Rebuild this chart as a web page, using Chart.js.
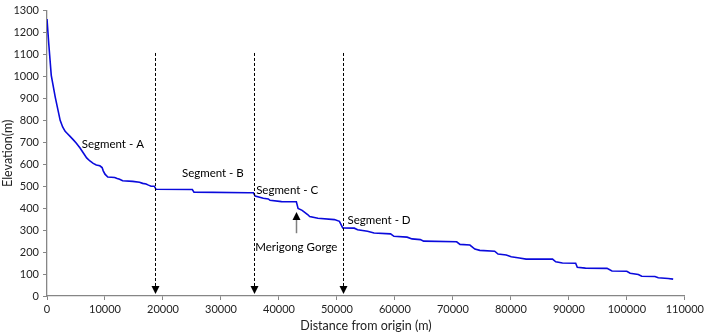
<!DOCTYPE html>
<html>
<head>
<meta charset="utf-8">
<script src="https://cdn.jsdelivr.net/npm/chart.js@4/dist/chart.umd.min.js"></script>
<style>
  html, body { margin: 0; padding: 0; background: #fff; }
  #wrap { width: 707px; height: 333px; }
</style>
</head>
<body>
<div id="wrap"><canvas id="profileChart" width="707" height="333"></canvas></div>
<script>
// distance from origin (m) and elevation (m)
const distance = [
  0, 300, 735, 1420, 2270, 2700, 3130, 3500, 3980, 4550, 5100, 5700, 6300, 6840,
  7400, 7970, 8500, 9110, 9500, 9700, 10000, 10480, 11670, 12100, 12530, 13040,
  14770, 15950, 16500, 17090, 17500, 17950, 18500, 18800, 25060, 25350, 34750,
  35600, 35900, 37300, 38170, 38460, 40440, 43000, 43300, 44000, 45000, 45300,
  46720, 49570, 50430, 51000, 53000, 53560, 55270, 56400, 59250, 59830, 62100,
  62950, 64380, 64960, 70650, 71220, 72930, 73780, 74640, 77200, 77780, 79200,
  80050, 81470, 82620, 87180, 87740, 88890, 91170, 91450, 92860, 96580, 97430,
  99990, 100560, 101980, 102560, 104840, 105410, 107120, 107980
];
const elevation = [
  1262, 1150, 1005, 906, 800, 770, 750, 740, 727, 711, 695, 674, 650, 629,
  615, 604, 597, 593, 585, 570, 555, 542, 540, 535, 532, 525,
  522, 518, 513, 510, 505, 500, 500, 486, 485, 473, 470,
  470, 455, 445, 442, 436, 430, 429, 399, 390, 370, 362,
  354, 348, 340, 310, 309, 302, 295, 287, 283, 272, 268,
  260, 257, 250, 247, 235, 232, 214, 208, 204, 191, 187,
  179, 173, 168, 168, 156, 150, 149, 131, 127, 126, 114,
  113, 104, 98, 90, 89, 83, 80, 77
];

// segment boundaries (dashed arrows) and text annotations
const boundaries = [18600, 35700, 51000];
const boundaryTop = 1107;
const segmentLabels = ["Segment - A", "Segment - B", "Segment - C", "Segment - D"];
const segmentLabelX = [11350, 28600, 41420, 57260];
const segmentLabelY = [692, 559, 483, 344];
const gorgeLabel = "Merigong Gorge";
const gorgeX = 43000;
const gorgeLabelY = 220;
const gorgeArrowFrom = 286;
const gorgeArrowTo = 383;

const FONT = "Lato, 'Open Sans', sans-serif";

const points = distance.map((d, i) => ({ x: d, y: elevation[i] }));

function arrowHead(ctx, x, y, dir, w, h) {
  // dir = 1 -> pointing down, -1 -> pointing up
  ctx.beginPath();
  ctx.moveTo(x, y);
  ctx.lineTo(x - w / 2, y - dir * h);
  ctx.lineTo(x + w / 2, y - dir * h);
  ctx.closePath();
  ctx.fill();
}

const annotations = {
  id: "annotations",
  afterDatasetsDraw(chart) {
    const { ctx, scales } = chart;
    const xs = scales.x, ys = scales.y;
    ctx.save();

    // dashed boundary arrows
    ctx.strokeStyle = "#000";
    ctx.fillStyle = "#000";
    ctx.lineWidth = 1;
    boundaries.forEach((b) => {
      const px = Math.round(xs.getPixelForValue(b)) + 0.5;
      const top = ys.getPixelForValue(boundaryTop);
      const tip = ys.getPixelForValue(0) - 2;
      ctx.setLineDash([3, 2]);
      ctx.beginPath();
      ctx.moveTo(px, top);
      ctx.lineTo(px, tip - 6);
      ctx.stroke();
      ctx.setLineDash([]);
      arrowHead(ctx, px, tip, 1, 8, 8);
    });

    // Merigong Gorge arrow
    const gx = Math.round(xs.getPixelForValue(gorgeX)) + 0.5;
    const gTip = ys.getPixelForValue(gorgeArrowTo);
    ctx.strokeStyle = "#7f7f7f";
    ctx.lineWidth = 1.5;
    ctx.beginPath();
    ctx.moveTo(gx, ys.getPixelForValue(gorgeArrowFrom));
    ctx.lineTo(gx, gTip + 6);
    ctx.stroke();
    ctx.fillStyle = "#000";
    arrowHead(ctx, gx, gTip, -1, 8, 8);

    // labels
    ctx.font = "11.5px " + FONT;
    ctx.fillStyle = "#000";
    ctx.textAlign = "center";
    ctx.textBaseline = "middle";
    segmentLabels.forEach((t, i) => {
      ctx.fillText(t, xs.getPixelForValue(segmentLabelX[i]), ys.getPixelForValue(segmentLabelY[i]));
    });
    ctx.fillText(gorgeLabel, xs.getPixelForValue(gorgeX), ys.getPixelForValue(gorgeLabelY));

    ctx.restore();
  },
};

const plainTick = (v) => String(v);

new Chart(document.getElementById("profileChart"), {
  type: "scatter",
  data: {
    datasets: [
      {
        data: points,
        showLine: true,
        borderColor: "#0a0adc",
        borderWidth: 1.6,
        pointRadius: 0,
        tension: 0,
      },
    ],
  },
  options: {
    responsive: false,
    animation: false,
    layout: { padding: { top: 5, right: 17, left: 0, bottom: 0 } },
    plugins: { legend: { display: false }, tooltip: { enabled: false } },
    scales: {
      x: {
        type: "linear",
        min: 0,
        max: 110000,
        afterFit: (s) => { s.height = 37; },
        ticks: { stepSize: 10000, callback: plainTick, color: "#222", font: { family: FONT, size: 11 }, padding: 3, maxRotation: 0 },
        grid: { drawOnChartArea: false, drawTicks: true, tickLength: 4, color: "#868686" },
        border: { display: true, color: "#868686", width: 1.3 },
        title: { display: true, text: "Distance from origin (m)", color: "#222", font: { family: FONT, size: 12.5 }, padding: { top: 0, bottom: 0 } },
      },
      y: {
        min: 0,
        max: 1300,
        afterFit: (s) => { s.width = 47; },
        ticks: { stepSize: 100, callback: plainTick, color: "#222", font: { family: FONT, size: 11 }, padding: 4 },
        grid: { drawOnChartArea: false, drawTicks: true, tickLength: 4, color: "#868686" },
        border: { display: true, color: "#868686", width: 1.3 },
        title: { display: true, text: "Elevation(m)", color: "#222", font: { family: FONT, size: 12.5 }, padding: { top: 0, bottom: 0 } },
      },
    },
  },
  plugins: [annotations],
});
</script>
</body>
</html>
